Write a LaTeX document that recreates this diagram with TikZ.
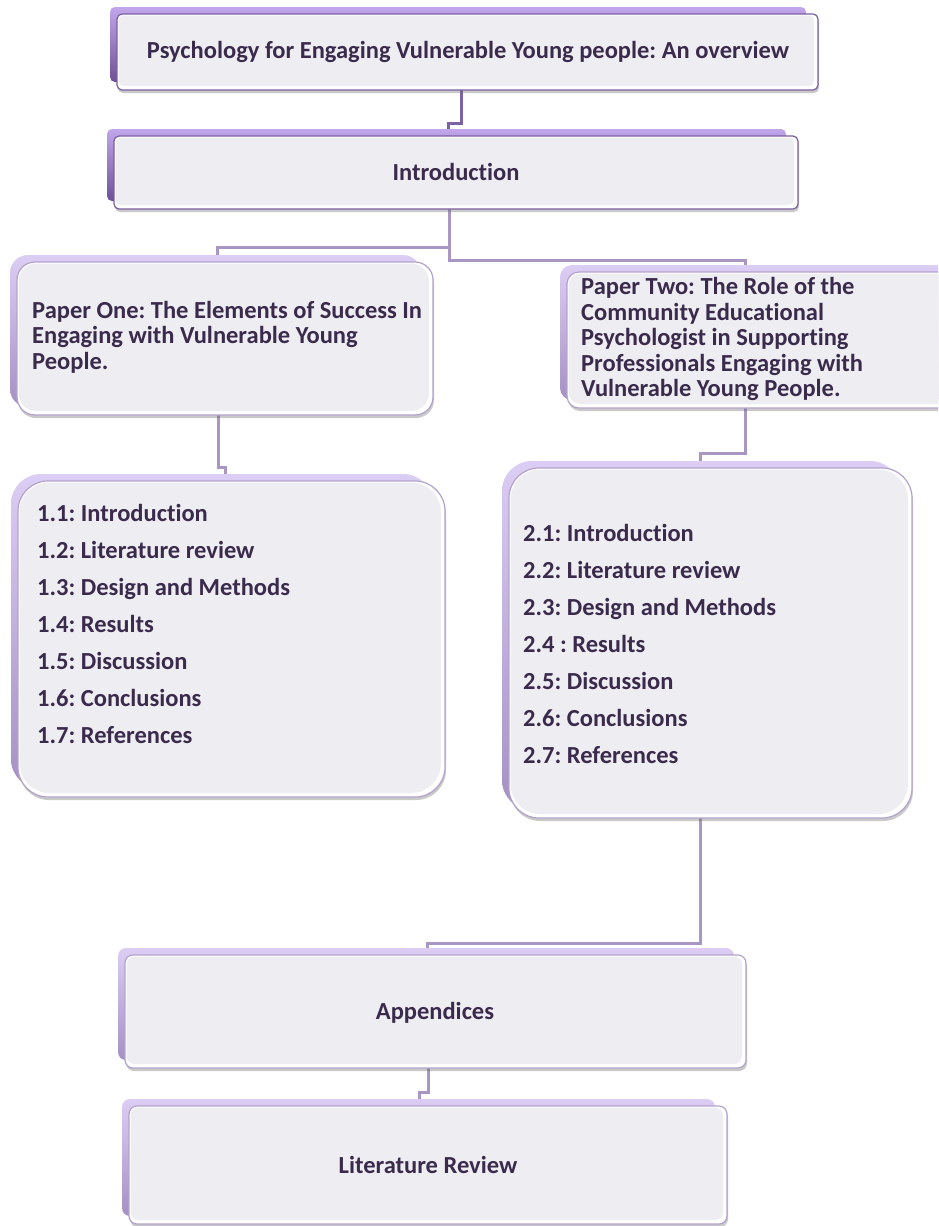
\documentclass[tikz,border=0pt]{standalone}
\usepackage{fontspec}
\setmainfont{Carlito}[Ligatures={NoCommon}]
\usetikzlibrary{shadows}
\frenchspacing
\definecolor{txt}{HTML}{3A2A4C}
\definecolor{darkTop}{HTML}{C2A6EC}
\definecolor{darkBot}{HTML}{6E5096}
\definecolor{darkEdge}{HTML}{7A5FA0}
\definecolor{lightTop}{HTML}{DCCDF4}
\definecolor{lightBot}{HTML}{A690C4}
\definecolor{lightEdge}{HTML}{B3A3CC}
\definecolor{panelfill}{HTML}{EEEDF2}
\definecolor{connD}{HTML}{7E63A4}
\definecolor{connL}{HTML}{A797C2}
\pgfdeclarelayer{background}
\pgfsetlayers{background,main}
\tikzset{
  backdark/.style={top color=darkTop, bottom color=darkBot},
  backlight/.style={top color=lightTop, bottom color=lightBot},
  frontdark/.style={draw=darkEdge, line width=1.2pt, fill=white,
    drop shadow={shadow xshift=1pt, shadow yshift=-3pt, opacity=0.35, fill=black!60}},
  frontlight/.style={draw=lightEdge, line width=1.2pt, fill=white,
    drop shadow={shadow xshift=1pt, shadow yshift=-3pt, opacity=0.35, fill=black!60}},
  lbl/.style={text=txt, font=\fontsize{24.5}{25.5}\selectfont\bfseries\frenchspacing, inner sep=0pt, align=left},
  lbllist/.style={text=txt, font=\fontsize{24.5}{37}\selectfont\bfseries\frenchspacing, inner sep=0pt, align=left},
  conn/.style={line width=3pt},
}
\newcommand\smartbox[7]{%
  \path[back#7, rounded corners=#6] (#2-7,#3-7) rectangle (#4-12,#5-8);
  \node[front#7, rounded corners=#6, minimum width={#4-(#2)}, minimum height={#5-(#3)},
        anchor=north west, inner sep=0pt, outer sep=0pt] (#1) at (#2,#3) {};
  \fill[panelfill, rounded corners=#6] (#2+1.5,#3+1.5) rectangle (#4-4,#5-4);
}
\begin{document}
\begin{tikzpicture}[x=1pt,y=-1pt]
\useasboundingbox (0,0) rectangle (938,1226);
\clip (0,0) rectangle (938,1226);

\smartbox{top}{117}{14}{818}{90}{5}{dark}
\smartbox{intro}{114}{136}{798}{209}{5}{dark}
\smartbox{p1}{17}{262}{433}{415}{18}{light}
\smartbox{p2}{567}{272}{960}{408}{12}{light}
\smartbox{l1}{18}{481}{445}{797}{30}{light}
\smartbox{l2}{509}{468}{912}{818}{30}{light}
\smartbox{app}{125}{955}{746}{1068}{8}{light}
\smartbox{lit}{129}{1106}{727}{1224}{8}{light}

\node[lbl, align=center] (ttop) at (468,52) {Psychology for Engaging Vulnerable Young people: An overview};
\node[lbl, align=center] (tintro) at (456,172) {Introduction};
\node[lbl, anchor=west] (tp1) at (32,337) {Paper One: The Elements of Success In\\Engaging with Vulnerable Young\\People.};
\node[lbl, anchor=west] (tp2) at (581,339) {Paper Two: The Role of the\\Community Educational\\Psychologist in Supporting\\Professionals Engaging with\\Vulnerable Young People.};
\node[lbllist, anchor=west] (tl1) at (37,624) {1.1: Introduction\\1.2: Literature review\\1.3: Design and Methods\\1.4: Results\\1.5: Discussion\\1.6: Conclusions\\1.7: References};
\node[lbllist, anchor=west] (tl2) at (523,644) {2.1: Introduction\\2.2: Literature review\\2.3: Design and Methods\\2.4 : Results\\2.5: Discussion\\2.6: Conclusions\\2.7: References};
\node[lbl, align=center] (tapp) at (435,1013) {Appendices};
\node[lbl, align=center] (tlit) at (428,1165) {Literature Review};

\begin{pgfonlayer}{background}
\fill[white] (0,0) rectangle (938,1226);
\draw[conn, connD] ([xshift=-6.5pt]top.south) -- ++(0,33) -| ([xshift=-8pt]intro.north);
\draw[conn, connL] ([xshift=-7pt]intro.south) -- ++(0,38) -| ([xshift=-8pt]p1.north);
\draw[conn, connL] ([xshift=-7pt]intro.south) -- ++(0,51) -| ([xshift=-18.5pt]p2.north);
\draw[conn, connL] ([xshift=-7pt]p1.south) -- ++(0,52) -| ([xshift=-6.5pt]l1.north);
\draw[conn, connL] ([xshift=-18.5pt]p2.south) -- ++(0,45) -| ([xshift=-10.5pt]l2.north);
\draw[conn, connL] ([xshift=-10.5pt]l2.south) -- ++(0,125) -| ([xshift=-8.5pt]app.north);
\draw[conn, connL] ([xshift=-7.5pt]app.south) -- ++(0,24) -| ([xshift=-9pt]lit.north);
\end{pgfonlayer}
\end{tikzpicture}
\end{document}
